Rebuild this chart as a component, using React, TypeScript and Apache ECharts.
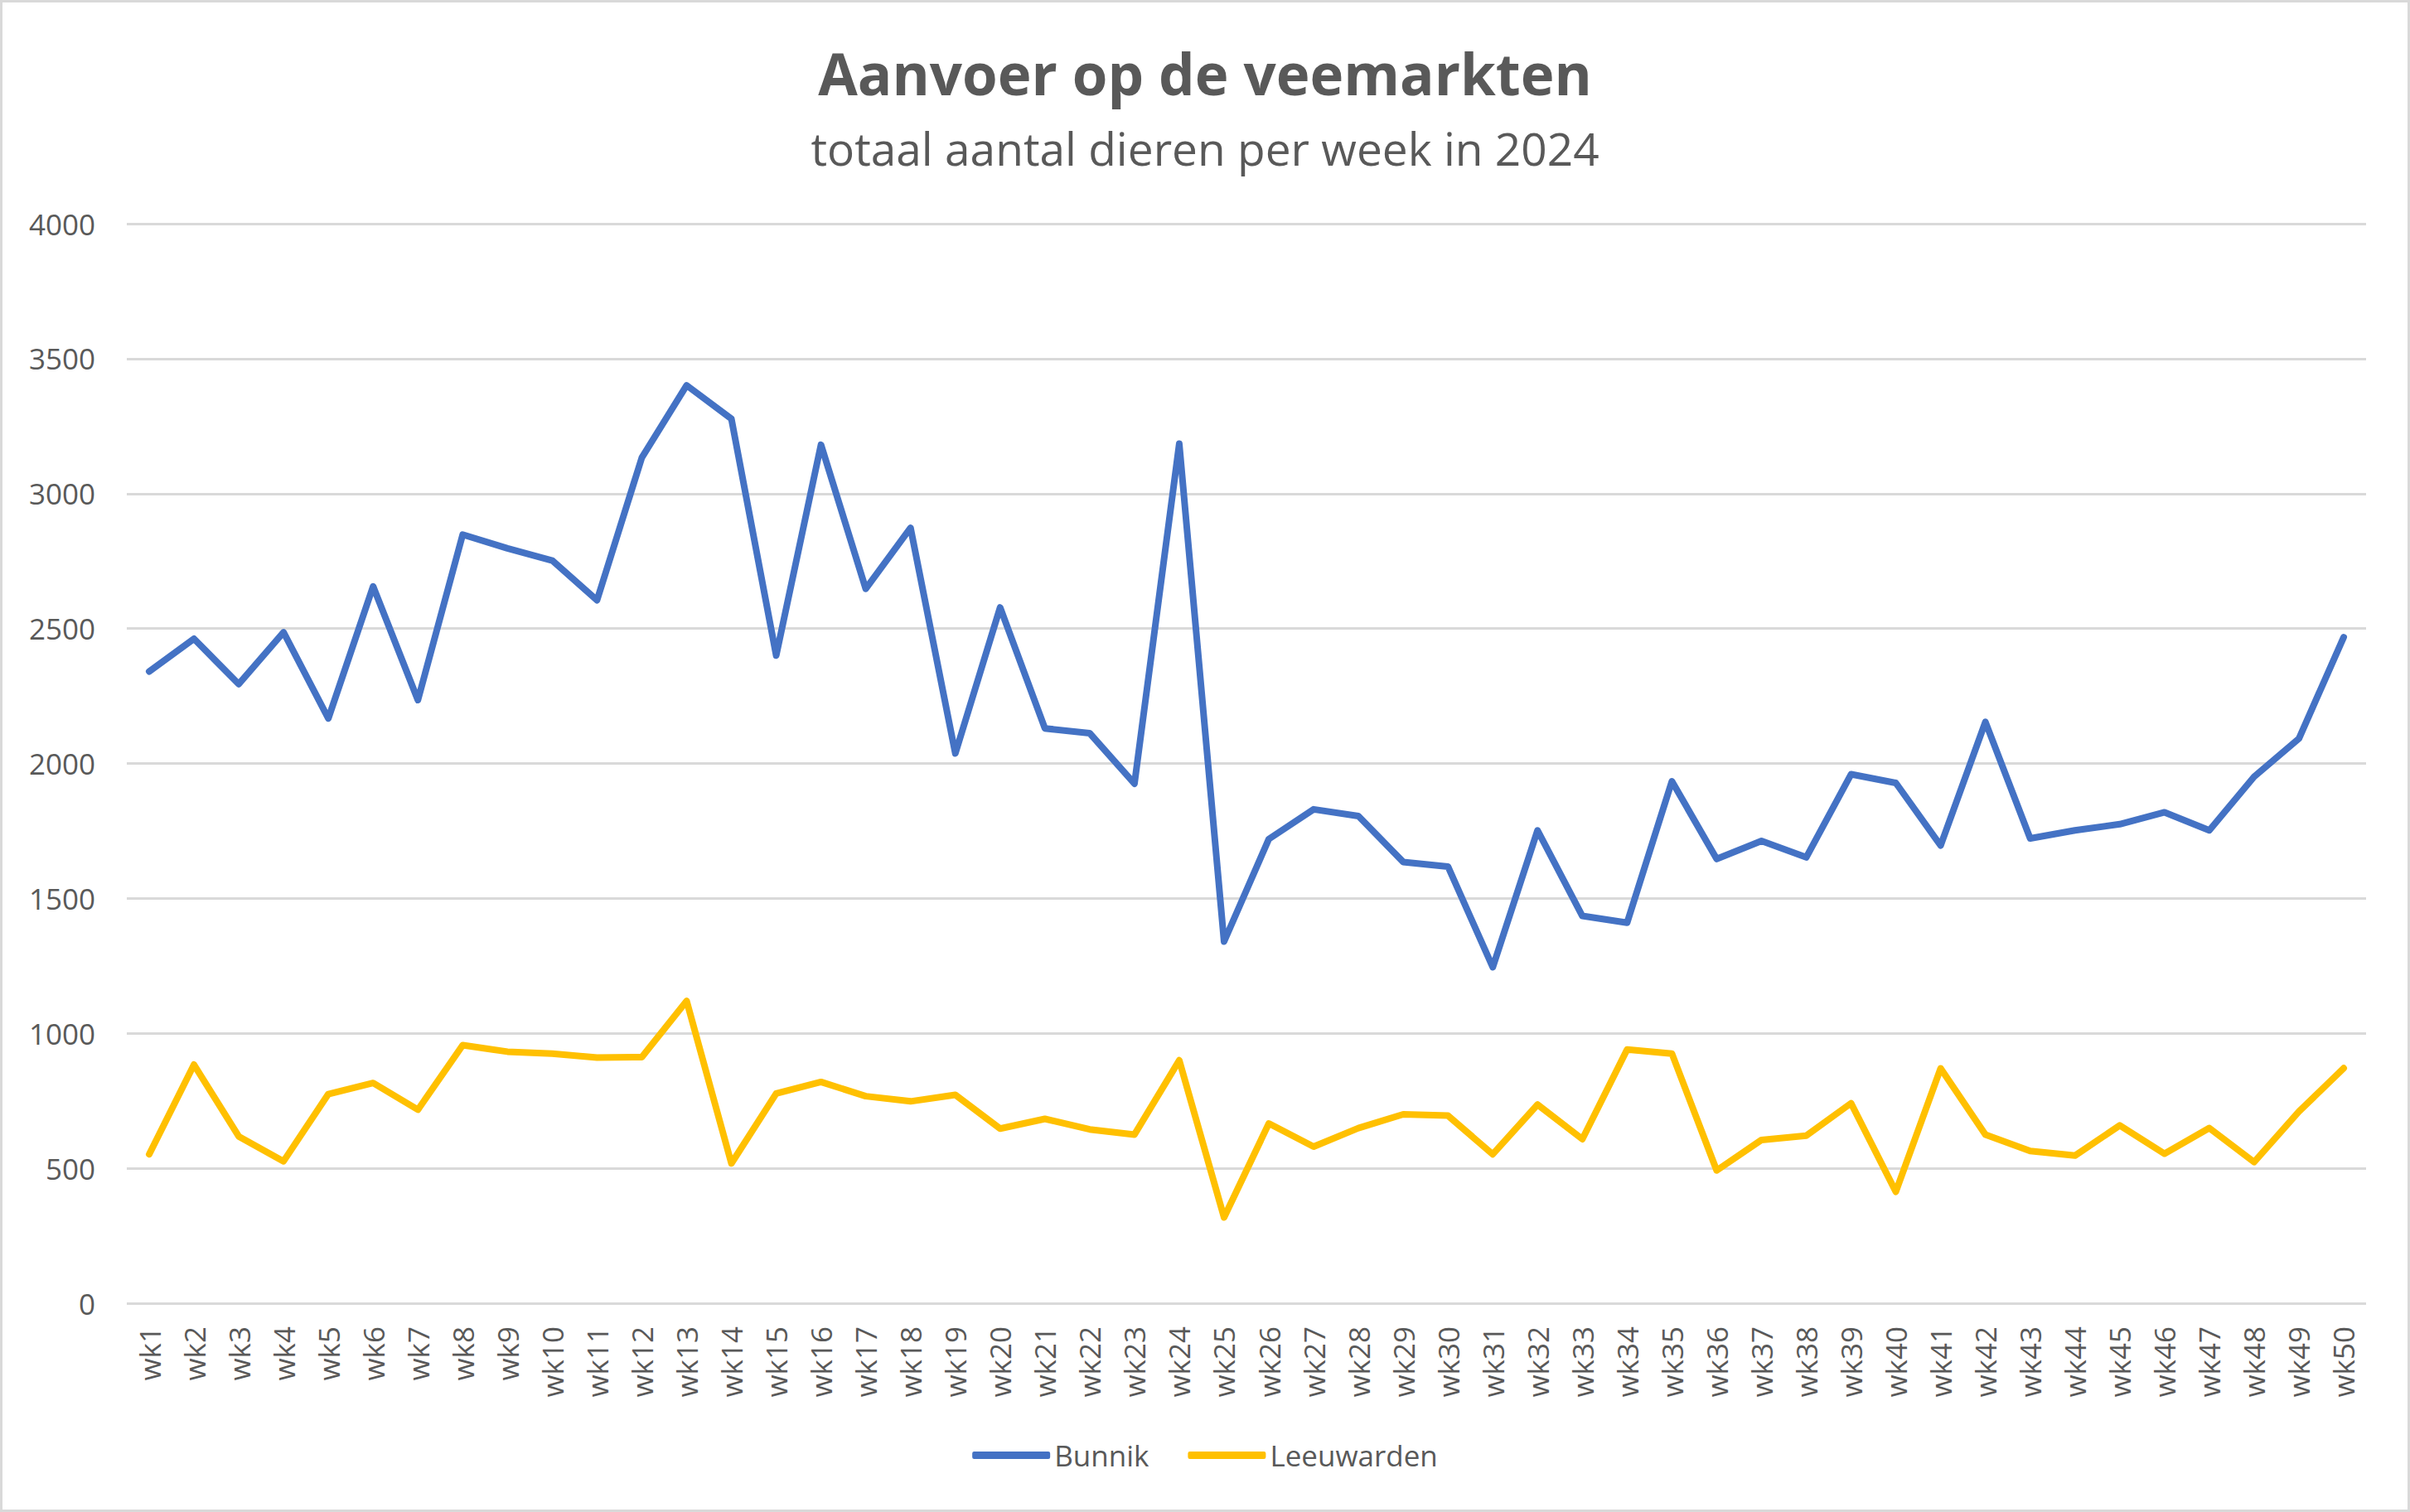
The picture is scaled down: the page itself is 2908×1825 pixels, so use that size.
import React, { useEffect, useRef } from "react";
import * as echarts from "echarts";

const weeks = Array.from({ length: 50 }, (_, i) => "wk" + (i + 1));

const bunnik = [
  2341, 2462, 2294, 2486, 2167, 2656, 2235, 2848, 2797, 2752,
  2605, 3133, 3401, 3277, 2400, 3181, 2647, 2873, 2037, 2578,
  2130, 2112, 1925, 3185, 1340, 1720, 1830, 1805, 1635, 1618,
  1245, 1752, 1435, 1410, 1934, 1646, 1713, 1652, 1960, 1928,
  1696, 2154, 1722, 1752, 1775, 1819, 1752, 1951, 2092, 2468,
];

const leeuwarden = [
  552, 884, 618, 526, 775, 816, 717, 956, 932, 925,
  910, 912, 1120, 518, 777, 820, 767, 748, 772, 647,
  683, 644, 625, 900, 318, 666, 580, 649, 700, 695,
  552, 736, 608, 940, 925, 492, 605, 621, 741, 413,
  870, 625, 564, 547, 659, 554, 649, 523, 710, 871,
];

const seriesNames = ["Bunnik", "Leeuwarden"];
const titleText = "Aanvoer op de veemarkten";
const subtitleText = "totaal aantal dieren per week in 2024";

export default function App() {
  const ref = useRef<HTMLDivElement>(null);

  useEffect(() => {
    document.body.style.margin = "0";
    const chart = echarts.init(ref.current!, null, { renderer: "svg" });
    const font = "'Open Sans', sans-serif";
    const grey = "#595959";
    chart.setOption({
      animation: false,
      backgroundColor: "#ffffff",
      textStyle: { fontFamily: font },
      title: [
        {
          text: titleText,
          left: "center",
          top: 48,
          textStyle: { fontSize: 69, fontWeight: "bold", color: grey, fontFamily: font },
        },
        {
          text: subtitleText,
          left: "center",
          top: 146,
          textStyle: { fontSize: 55, fontWeight: "normal", color: grey, fontFamily: font },
        },
      ],
      legend: {
        data: seriesNames,
        left: "center",
        top: 1734,
        icon: "roundRect",
        itemWidth: 94,
        itemHeight: 9,
        itemGap: 47,
        textStyle: { fontSize: 35, color: grey, fontFamily: font },
      },
      grid: { left: 153, right: 53, top: 270, bottom: 252, containLabel: false },
      xAxis: {
        type: "category",
        data: weeks,
        boundaryGap: true,
        axisLine: { show: false },
        axisTick: { show: false },
        axisLabel: {
          rotate: 90,
          interval: 0,
          margin: 28,
          fontSize: 35,
          color: grey,
          fontFamily: font,
        },
      },
      yAxis: {
        type: "value",
        min: 0,
        max: 4000,
        interval: 500,
        axisLine: { show: false },
        axisTick: { show: false },
        axisLabel: {
          fontSize: 35,
          color: grey,
          margin: 38,
          fontFamily: font,
          formatter: (v: number) => String(v),
        },
        splitLine: { lineStyle: { color: "#d9d9d9", width: 3 } },
      },
      graphic: [
        {
          type: "rect",
          shape: { x: 1.5, y: 1.5, width: 2905, height: 1822 },
          style: { fill: "none", stroke: "#d9d9d9", lineWidth: 3 },
          silent: true,
        },
      ],
      series: [
        {
          name: seriesNames[0],
          type: "line",
          data: bunnik,
          showSymbol: false,
          symbol: "none",
          color: "#4472c4",
          lineStyle: { width: 8, color: "#4472c4", cap: "round", join: "round" },
        },
        {
          name: seriesNames[1],
          type: "line",
          data: leeuwarden,
          showSymbol: false,
          symbol: "none",
          color: "#ffc000",
          lineStyle: { width: 8, color: "#ffc000", cap: "round", join: "round" },
        },
      ],
    });
    return () => chart.dispose();
  }, []);

  return <div ref={ref} style={{ width: 2908, height: 1825 }} />;
}
